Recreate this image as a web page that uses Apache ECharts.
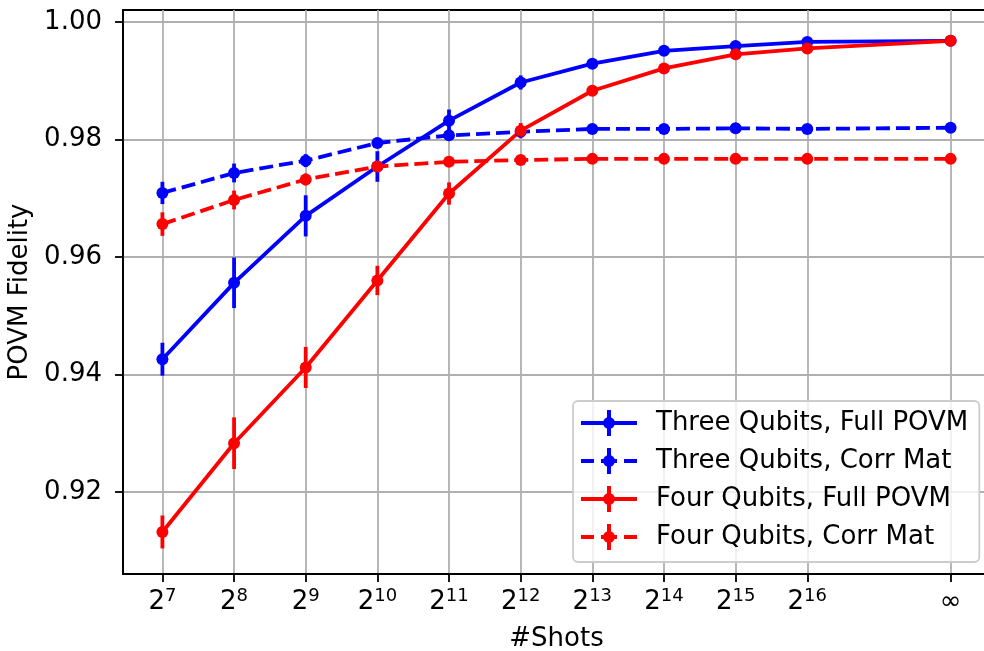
<!DOCTYPE html>
<html>
<head>
<meta charset="utf-8">
<script src="https://cdn.jsdelivr.net/npm/echarts@6/dist/echarts.min.js"></script>
<style>
html,body{margin:0;padding:0;background:#fff;}
#chart{width:984px;height:651px;}
</style>
</head>
<body>
<div id="chart"></div>
<script>
// x positions: log2(#shots); infinity placed at 18
const xValues = [7, 8, 9, 10, 11, 12, 13, 14, 15, 16, 18];
const xTickExponents = ['7', '8', '9', '10', '11', '12', '13', '14', '15', '16', '∞'];
const yTickValues = [0.92, 0.94, 0.96, 0.98, 1.00];

const seriesNames = ['Three Qubits, Full POVM', 'Three Qubits, Corr Mat', 'Four Qubits, Full POVM', 'Four Qubits, Corr Mat'];

const threeFull    = [0.9426, 0.9556, 0.9670, 0.9754, 0.9832, 0.9897, 0.9929, 0.9951, 0.9959, 0.9966, 0.9968];
const threeFullErr = [0.0028, 0.0043, 0.0035, 0.0026, 0.0019, 0.0012, 0.0006, 0.0004, 0.0003, 0.0002, 0.0001];
const threeCorr    = [0.9709, 0.9743, 0.9764, 0.9794, 0.9807, 0.9813, 0.9818, 0.9818, 0.9819, 0.9818, 0.9820];
const threeCorrErr = [0.0019, 0.0016, 0.0011, 0.0006, 0.0004, 0.0003, 0.0002, 0.0002, 0.0001, 0.0001, 0.0001];
const fourFull     = [0.9132, 0.9283, 0.9412, 0.9560, 0.9708, 0.9815, 0.9883, 0.9921, 0.9945, 0.9955, 0.9968];
const fourFullErr  = [0.0028, 0.0044, 0.0035, 0.0025, 0.0019, 0.0013, 0.0007, 0.0004, 0.0003, 0.0002, 0.0001];
const fourCorr     = [0.9656, 0.9697, 0.9732, 0.9754, 0.9762, 0.9765, 0.9767, 0.9767, 0.9767, 0.9767, 0.9767];
const fourCorrErr  = [0.0020, 0.0016, 0.0010, 0.0006, 0.0004, 0.0003, 0.0002, 0.0001, 0.0001, 0.0001, 0.0001];

const FONT = 'DejaVu Sans';
const FS = 26;
const BLUE = '#0000ff', RED = '#ff0000';
const LW = 3.8;
const DASH = [14, 6];

const defs = [
  {name: seriesNames[0], vals: threeFull, errs: threeFullErr, color: BLUE, dashed: false},
  {name: seriesNames[1], vals: threeCorr, errs: threeCorrErr, color: BLUE, dashed: true},
  {name: seriesNames[2], vals: fourFull, errs: fourFullErr, color: RED, dashed: false},
  {name: seriesNames[3], vals: fourCorr, errs: fourCorrErr, color: RED, dashed: true}
];

const solidIcon = 'path://M0,11L56,11L56,15L0,15Z M26,0L30,0L30,26L26,26Z M34,13A6,6,0,1,1,22,13A6,6,0,1,1,34,13Z';
const dashedIcon = 'path://M0,11L13,11L13,15L0,15Z M20,11L36,11L36,15L20,15Z M43,11L56,11L56,15L43,15Z M26,0L30,0L30,26L26,26Z M34,13A6,6,0,1,1,22,13A6,6,0,1,1,34,13Z';

const series = [];
defs.forEach(function (d, k) {
  series.push({
    name: 'err' + k,
    type: 'custom',
    silent: true,
    data: xValues.map(function (x, i) { return [x, d.vals[i] - d.errs[i], d.vals[i] + d.errs[i]]; }),
    renderItem: function (params, api) {
      const p1 = api.coord([api.value(0), api.value(1)]);
      const p2 = api.coord([api.value(0), api.value(2)]);
      return {
        type: 'line',
        shape: {x1: p1[0], y1: p1[1], x2: p2[0], y2: p2[1]},
        style: {stroke: d.color, lineWidth: LW}
      };
    },
    encode: {x: 0, y: [1, 2]},
    z: 2
  });
  series.push({
    name: d.name,
    type: 'line',
    data: xValues.map(function (x, i) { return [x, d.vals[i]]; }),
    symbol: 'circle',
    symbolSize: 12,
    showSymbol: true,
    itemStyle: {color: d.color},
    lineStyle: {color: d.color, width: LW, type: d.dashed ? DASH : 'solid'},
    z: 2
  });
});

const chart = echarts.init(document.getElementById('chart'), null, {renderer: 'canvas'});
chart.setOption({
  animation: false,
  backgroundColor: '#ffffff',
  grid: {
    left: 123, top: 10, right: -6, bottom: 77,
    show: true, borderColor: '#000', borderWidth: 1.8, backgroundColor: 'transparent',
    containLabel: false, outerBoundsMode: 'none'
  },
  xAxis: {
    type: 'value',
    min: 6.45, max: 18.55,
    name: '#Shots',
    nameLocation: 'middle',
    nameGap: 52,
    nameTextStyle: {fontFamily: FONT, fontSize: FS, color: '#000'},
    axisLine: {show: true, lineStyle: {color: '#000', width: 1.8}},
    axisTick: {show: true, length: 8, lineStyle: {color: '#000', width: 1.8}, customValues: xValues},
    splitLine: {show: true, lineStyle: {color: '#b0b0b0', width: 1.8}},
    axisLabel: {
      customValues: xValues,
      margin: 13,
      formatter: function (v) {
        const i = xValues.indexOf(v);
        if (i < 0) return '';
        const e = xTickExponents[i];
        if (e === '∞') return '{b|∞}';
        return '{b|2}{s|' + e + '}';
      },
      rich: {
        b: {fontFamily: FONT, fontSize: FS, color: '#000', lineHeight: 30},
        s: {fontFamily: FONT, fontSize: 18, color: '#000', lineHeight: 16, verticalAlign: 'top'}
      }
    }
  },
  yAxis: {
    type: 'value',
    min: 0.90604, max: 1.00204,
    name: 'POVM Fidelity',
    nameLocation: 'middle',
    nameGap: 82,
    nameRotate: 90,
    nameTextStyle: {fontFamily: FONT, fontSize: FS, color: '#000'},
    axisLine: {show: true, lineStyle: {color: '#000', width: 1.8}},
    axisTick: {show: true, length: 8, lineStyle: {color: '#000', width: 1.8}, customValues: yTickValues},
    splitLine: {show: true, lineStyle: {color: '#b0b0b0', width: 1.8}},
    axisLabel: {
      customValues: yTickValues,
      margin: 21,
      fontFamily: FONT, fontSize: FS, color: '#000',
      formatter: function (v) { return v.toFixed(2); }
    }
  },
  legend: {
    orient: 'vertical',
    left: 573, top: 401,
    padding: [9, 11, 12, 8],
    itemGap: 12,
    itemWidth: 56,
    itemHeight: 26,
    backgroundColor: 'rgba(255,255,255,0.8)',
    borderColor: '#cccccc',
    borderWidth: 1.8,
    borderRadius: 5,
    textStyle: {fontFamily: FONT, fontSize: FS, lineHeight: 26, color: '#000', padding: [0, 0, 0, 14]},
    data: defs.map(function (d) {
      return {name: d.name, icon: d.dashed ? dashedIcon : solidIcon, itemStyle: {color: d.color, borderWidth: 0}};
    }),
    z: 10
  },
  series: series
});
</script>
</body>
</html>
